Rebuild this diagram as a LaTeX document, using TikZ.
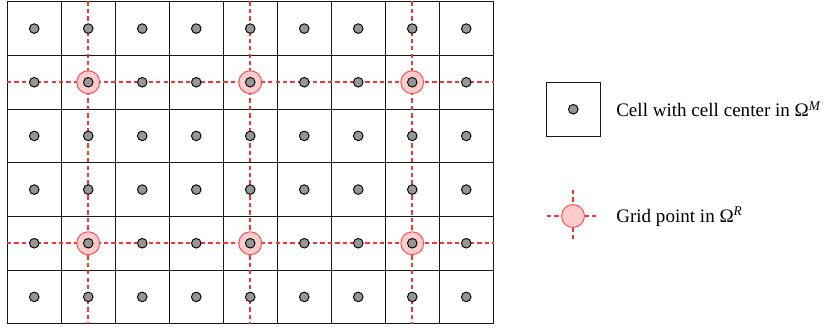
\documentclass[tikz,border=0pt]{standalone}
\usepackage{fontspec}
\setmainfont{Liberation Serif}
\definecolor{redl}{RGB}{255,50,50}
\definecolor{ptfill}{RGB}{255,205,205}
\definecolor{ptdraw}{RGB}{255,75,75}
\definecolor{dotfill}{RGB}{150,150,150}
\tikzset{
  cellbox/.style={draw=black!90, line width=0.75pt, inner sep=0pt,
    minimum width=40.5pt, minimum height=40.25pt},
  redline/.style={draw=redl, line width=1.25pt, dash pattern=on 3.3pt off 2.3pt},
  gridpt/.style={circle, draw=ptdraw, fill=ptfill, line width=0.7pt,
    inner sep=0pt, minimum size=17.2pt},
  celldot/.style={circle, draw=black, fill=dotfill, line width=0.7pt,
    inner sep=0pt, minimum size=7.2pt},
  legtext/.style={anchor=base west, inner sep=0pt, font=\fontsize{14.3}{17}\selectfont}
}
\begin{document}
\begin{tikzpicture}[x=0.75pt, y=-0.75pt]
\useasboundingbox (0,0) rectangle (825,328);
% cells
\foreach \i in {1,...,9}{
  \foreach \j in {1,...,6}{
    \node[cellbox] (c\i-\j) at ({7.25+54*(\i-0.5)},{1.75+53.6667*(\j-0.5)}) {};
  }
}
% red dashed grid lines
\draw[redline] (c2-1.north) -- (c2-6.south);
\draw[redline] (c5-1.north) -- (c5-6.south);
\draw[redline] (c8-1.north) -- (c8-6.south);
\draw[redline] (c1-2.west) -- (c9-2.east);
\draw[redline] (c1-5.west) -- (c9-5.east);
% grid points
\foreach \i in {2,5,8}{
  \foreach \j in {2,5}{
    \node[gridpt] (g\i-\j) at (c\i-\j.center) {};
  }
}
% cell centers
\foreach \i in {1,...,9}{
  \foreach \j in {1,...,6}{
    \node[celldot] (d\i-\j) at (c\i-\j.center) {};
  }
}
% legend: cell
\node[cellbox] (lc) at (573.25,109.25) {};
\node[celldot] (ld) at (lc.center) {};
\node[legtext] (lt1) at (616,117) {Cell with cell center in Ω\textsuperscript{\textit{M}}};
% legend: grid point
\coordinate (lgl) at (547,216);
\coordinate (lgr) at (599,216);
\coordinate (lgt) at (573,190);
\coordinate (lgb) at (573,242);
\draw[redline] (lgl) -- (lgr);
\draw[redline] (lgt) -- (lgb);
\node[gridpt] (lg) at (573,216) {};
\node[legtext] (lt2) at (616,222) {Grid point in Ω\textsuperscript{\textit{R}}};
\end{tikzpicture}
\end{document}
